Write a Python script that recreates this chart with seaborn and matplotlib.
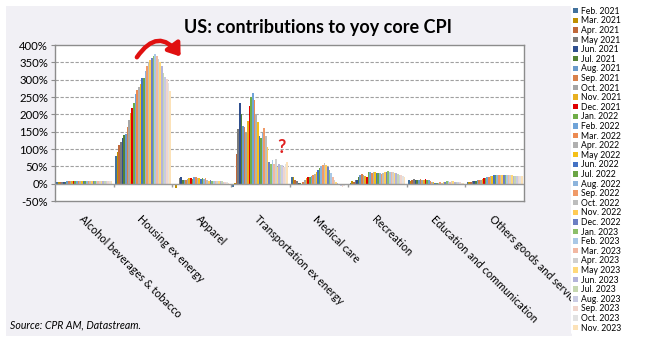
import numpy as np
import pandas as pd
import matplotlib
matplotlib.use("Agg")
import matplotlib.pyplot as plt
import seaborn as sns
from matplotlib.patches import Rectangle, Patch, FancyArrowPatch

categories = ["Alcohol beverages & tobacco", "Housing ex energy", "Apparel",
              "Transportation ex energy", "Medical care", "Recreation",
              "Education and communication", "Others goods and services"]

months = ["Feb. 2021", "Mar. 2021", "Apr. 2021", "May 2021", "Jun. 2021", "Jul. 2021",
          "Aug. 2021", "Sep. 2021", "Oct. 2021", "Nov. 2021", "Dec. 2021",
          "Jan. 2022", "Feb. 2022", "Mar. 2022", "Apr. 2022", "May 2022", "Jun. 2022",
          "Jul. 2022", "Aug. 2022", "Sep. 2022", "Oct. 2022", "Nov. 2022", "Dec. 2022",
          "Jan. 2023", "Feb. 2023", "Mar. 2023", "Apr. 2023", "May 2023", "Jun. 2023",
          "Jul. 2023", "Aug. 2023", "Sep. 2023", "Oct. 2023", "Nov. 2023"]

colors = ["#41719C", "#BF9000", "#C0683A", "#7B7B7B", "#2F4F8F", "#548235",
          "#6A9ACB", "#D9804A", "#A5A5A5", "#E8B020", "#E00000",
          "#70AD47", "#6FA3D8", "#EC8A52", "#B0B0B0", "#F5C018", "#4472C4",
          "#6BA545", "#8DB4DC", "#F09A68", "#BDBDBD", "#FFCB55", "#6C7FC4",
          "#8CBF6A", "#A9C8E6", "#F2B8A2", "#D0D0D0", "#FFD97A", "#B3B3DA",
          "#C6D7B0", "#C9CBE3", "#F0D5CC", "#E2E2E2", "#FCE2B8"]

alcohol = [6, 6, 6, 6, 6, 6, 7, 7, 7, 7, 8, 8, 8, 8, 8, 8, 9, 9, 9, 9, 9, 9, 9, 9,
           9, 9, 9, 9, 9, 9, 9, 8, 8, 8]
housing = [79, 90, 111, 119, 132, 140, 143, 164, 184, 203, 218, 234, 258, 270, 278,
           288, 304, 306, 325, 338, 350, 357, 362, 367, 374, 369, 359, 350, 338, 319,
           309, 301, 290, 266]
apparel = [-5, -12, -3, 15, 18, 12, 11, 10, 14, 17, 15, 13, 18, 20, 17, 16, 13, 15,
           14, 17, 12, 9, 10, 9, 9, 8, 8, 8, 7, 7, 6, 5, 4, 3]
transport = [-10, 3, 85, 159, 233, 200, 166, 164, 150, 180, 224, 249, 262, 241, 200,
             178, 137, 133, 147, 160, 137, 106, 63, 58, 68, 56, 72, 48, 58, 53, 55,
             48, 58, 62]
medical = [20, 18, 12, 8, 3, 1, 0, 5, 10, 15, 20, 18, 22, 25, 28, 35, 40, 45, 50, 55,
           60, 54, 48, 40, 30, 20, 12, 5, 2, -3, -8, -10, -8, -5]
recreation = [3, 8, 5, 10, 12, 18, 25, 27, 25, 22, 20, 35, 33, 30, 33, 33, 30, 32, 30,
              28, 30, 33, 35, 36, 35, 35, 33, 32, 30, 28, 26, 25, 22, 20]
education = [10, 8, 12, 14, 12, 10, 12, 14, 12, 11, 13, 12, 10, 8, 5, 4, 3, 2, 3, 4,
             3, 5, 6, 8, 7, 6, 8, 7, 6, 5, 5, 4, 3, 3]
others = [4, 5, 6, 7, 8, 9, 10, 11, 12, 14, 16, 17, 18, 20, 22, 23, 24, 25, 25, 26,
          25, 25, 26, 26, 25, 24, 25, 24, 23, 23, 22, 23, 22, 22]

series = [alcohol, housing, apparel, transport, medical, recreation, education, others]
rows = []
for cat, vals in zip(categories, series):
    for m, v in zip(months, vals):
        rows.append({"category": cat, "month": m, "value": v})
df = pd.DataFrame(rows)

W, H = 663, 342
fig = plt.figure(figsize=(W / 100, H / 100), dpi=100)
fig.patch.set_facecolor("white")
fig.patches.append(Rectangle((6 / W, 6 / H), (572 - 6) / W, (336 - 6) / H,
                             transform=fig.transFigure, facecolor="#f1f0f5",
                             edgecolor="none", zorder=-10))

ax = fig.add_axes([55 / W, (H - 201) / H, (524 - 55) / W, (201 - 45) / H])
ax.set_facecolor("white")

sns.barplot(data=df, x="category", y="value", hue="month", order=categories,
            hue_order=months, palette=colors, width=0.95, gap=0, linewidth=0,
            saturation=1, legend=False, ax=ax, zorder=3)

ax.set_xlim(-0.5, len(categories) - 0.5)
ax.set_ylim(-50, 400)
yt = list(range(-50, 401, 50))
ax.set_yticks(yt)
ax.set_yticklabels([f"{v}%" for v in yt], fontsize=8.2, family="Lato")
for v in yt[1:-1]:
    if v != 0:
        ax.axhline(v, color="#a0a0a0", lw=0.8, ls=(0, (3, 1.5)), zorder=1)
ax.axhline(0, color="#9a9a9a", lw=1.0, zorder=4)
ax.vlines(np.arange(len(categories) - 1) + 0.5, -9, 0, color="#9a9a9a", lw=1.0, zorder=4)

for s in ax.spines.values():
    s.set_color("#8c8c8c")
    s.set_linewidth(1.0)
ax.tick_params(axis="y", length=3, color="#8c8c8c", pad=2)
ax.tick_params(axis="x", length=0, pad=9)
ax.set_xticks(range(len(categories)))
ax.set_xticklabels(categories, rotation=-45, ha="left", va="top",
                   rotation_mode="anchor", fontsize=7.8, family="Lato")
ax.set_xlabel("")
ax.set_ylabel("")

fig.text(318 / W, 1 - 27 / H, "US: contributions to yoy core CPI", ha="center",
         va="center", fontsize=13, fontweight="bold", family="Lato")
fig.text(10 / W, 1 - 325 / H, "Source: CPR AM, Datastream.", ha="left", va="center",
         fontsize=7.6, style="italic", family="Lato")

arrow = FancyArrowPatch((0.87, 358), (1.67, 360), connectionstyle="arc3,rad=-0.75",
                        arrowstyle="-|>,head_length=7,head_width=5", color="#e01010",
                        lw=3.2, mutation_scale=1, clip_on=False, zorder=6)
ax.add_patch(arrow)
ax.text(3.36, 103, "?", color="#e02020", fontsize=13, fontweight="bold",
        ha="center", va="center", family="Lato", zorder=6)

handles = [Patch(facecolor=c, edgecolor="none") for c in colors]
leg = fig.legend(handles, months, loc="upper left", bbox_to_anchor=(571 / W, 1 - 5 / H),
                 frameon=True, facecolor="white", edgecolor="none",
                 framealpha=1, borderaxespad=0, borderpad=0.2, labelspacing=0.07,
                 handlelength=0.6, handleheight=0.6, handletextpad=0.4,
                 prop={"family": "Lato", "size": 6.2})
leg.get_frame().set_linewidth(0)

fig.savefig("out.png", dpi=100, facecolor=fig.get_facecolor())
